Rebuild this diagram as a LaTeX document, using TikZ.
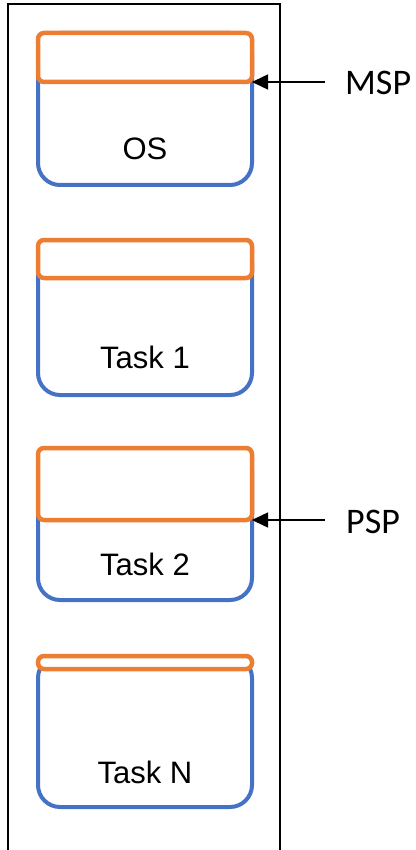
\documentclass[tikz,border=0pt]{standalone}
\usepackage{fontspec}
\setmainfont{Liberation Sans}
\newfontfamily\calib{Carlito}
\usetikzlibrary{arrows.meta}
\definecolor{oorange}{HTML}{ED7D31}
\definecolor{oblue}{HTML}{4472C4}
\begin{document}
\begin{tikzpicture}[x=1pt,y=-1pt,
  bluebox/.style={draw=oblue, line width=4pt, rounded corners=22pt, minimum width=214pt, inner sep=0pt, outer sep=0pt},
  orangebox/.style={draw=oorange, line width=4.5pt, fill=white, rounded corners=6pt, minimum width=214pt, inner sep=0pt, outer sep=0pt},
  lbl/.style={font=\fontsize{31}{37}\selectfont, anchor=base, inner sep=0pt},
  sidelbl/.style={font=\calib\fontsize{36}{42}\selectfont, anchor=base west, inner sep=0pt},
  ptr/.style={draw=black, line width=1.5pt, {Triangle[length=16pt,width=15pt]}-}]
\useasboundingbox (0,0) rectangle (415,850);
\begin{scope}
\clip (0,0) rectangle (415,850);
\node[draw=black, line width=1.5pt, minimum width=272pt, minimum height=900pt, inner sep=0pt] (frame) at (144,454) {};
\end{scope}
% OS
\node[bluebox, minimum height=152pt] (osb) at (145,109) {};
\node[orangebox, minimum height=49pt] (oso) at (145,57.5) {};
\node[lbl] (ost) at (145,160) {OS};
% Task 1
\node[bluebox, minimum height=155pt] (t1b) at (145,317.5) {};
\node[orangebox, minimum height=38pt] (t1o) at (145,259) {};
\node[lbl] (t1t) at (145,368) {Task 1};
% Task 2
\node[bluebox, minimum height=152pt] (t2b) at (145,524) {};
\node[orangebox, minimum height=72pt] (t2o) at (145,484) {};
\node[lbl] (t2t) at (145,575) {Task 2};
% Task N
\node[bluebox, minimum height=151pt] (tnb) at (145,731.5) {};
\node[orangebox, minimum height=13pt] (tno) at (145,662.5) {};
\node[lbl] (tnt) at (145,783) {Task N};
% pointers
\coordinate (mspend) at (325,82);
\coordinate (pspend) at (325,520);
\draw[ptr] (oso.south east) -- (mspend);
\draw[ptr] (t2o.south east) -- (pspend);
\node[sidelbl] (msp) at (345,95) {MSP};
\node[sidelbl] (psp) at (346,533) {PSP};
\end{tikzpicture}
\end{document}
